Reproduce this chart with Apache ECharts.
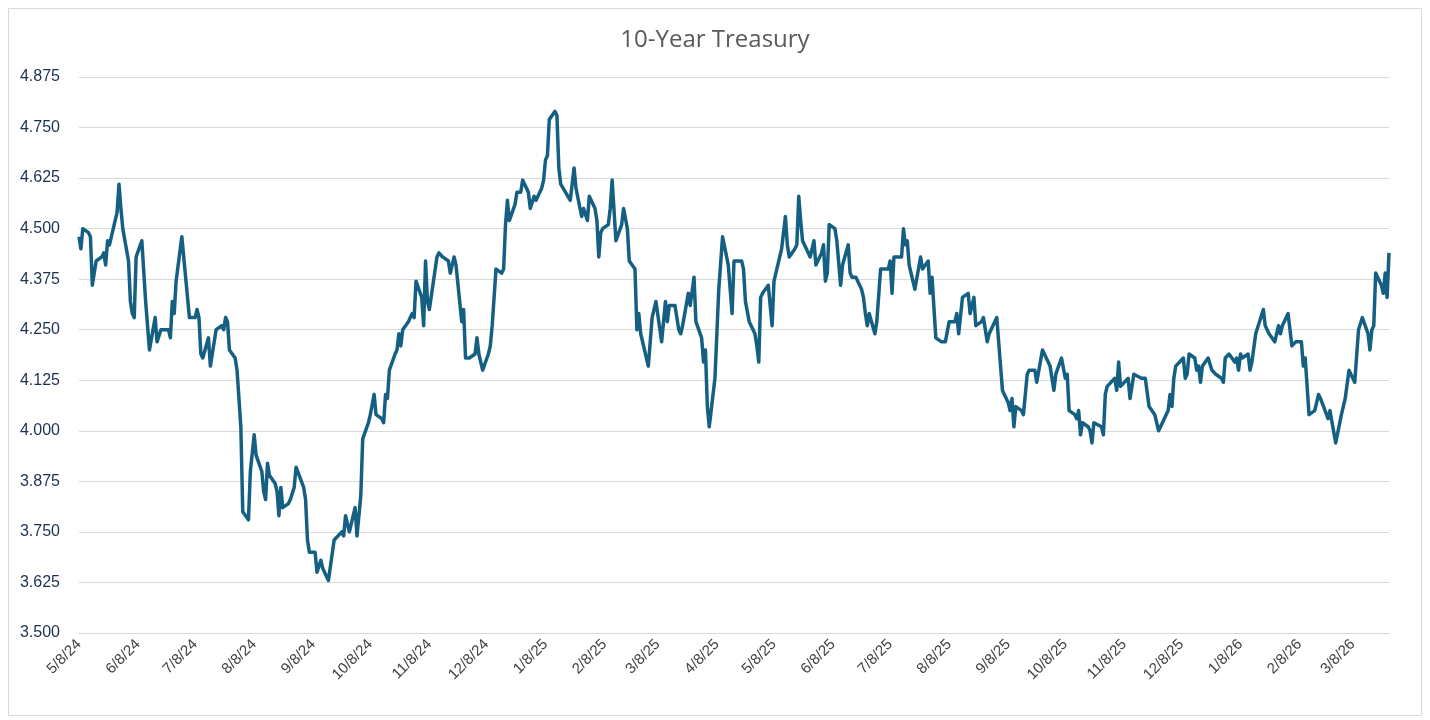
<!doctype html>
<html lang="en">
  <head>
    <meta charset="utf-8">
    <title>10-Year Treasury</title>
    <script src="https://cdn.jsdelivr.net/npm/echarts@6.0.0/dist/echarts.min.js"></script>
    <style>
      html, body {
        width: 100%;
        height: 100%;
        margin: 0;
        background: #fff;
      }

      #chart {
        width: 1430px;
        height: 720px;
      }
    </style>
  </head>
  <body>
    <div id="chart"></div>
    <script>
      // axis runs over every calendar day, labels on the 8th of each month
      const axisStart = '2024-05-08';
      const axisEnd = '2026-03-27';

      const dates = [
        '5/8/24', '5/9/24', '5/10/24', '5/13/24', '5/14/24', '5/15/24', '5/17/24', '5/20/24', '5/21/24', '5/22/24', '5/23/24', '5/24/24', '5/28/24', '5/29/24', '5/30/24', '5/31/24',
        '6/3/24', '6/4/24', '6/5/24', '6/6/24', '6/7/24', '6/10/24', '6/12/24', '6/14/24', '6/17/24', '6/18/24', '6/20/24', '6/24/24', '6/25/24', '6/26/24', '6/27/24', '6/28/24',
        '7/1/24', '7/5/24', '7/8/24', '7/9/24', '7/10/24', '7/11/24', '7/12/24', '7/15/24', '7/16/24', '7/19/24', '7/22/24', '7/23/24', '7/24/24', '7/25/24', '7/26/24', '7/29/24', '7/30/24', '7/31/24',
        '8/1/24', '8/2/24', '8/5/24', '8/6/24', '8/8/24', '8/9/24', '8/12/24', '8/13/24', '8/14/24', '8/15/24', '8/16/24', '8/19/24', '8/20/24', '8/21/24', '8/22/24', '8/23/24', '8/26/24', '8/27/24', '8/29/24', '8/30/24',
        '9/3/24', '9/4/24', '9/5/24', '9/6/24', '9/9/24', '9/10/24', '9/11/24', '9/12/24', '9/13/24', '9/16/24', '9/19/24', '9/20/24', '9/23/24', '9/24/24', '9/25/24', '9/26/24', '9/27/24', '9/30/24',
        '10/1/24', '10/3/24', '10/4/24', '10/7/24', '10/8/24', '10/10/24', '10/11/24', '10/14/24', '10/15/24', '10/16/24', '10/17/24', '10/18/24', '10/21/24', '10/22/24', '10/23/24', '10/24/24', '10/25/24', '10/28/24', '10/29/24', '10/30/24', '10/31/24',
        '11/1/24', '11/4/24', '11/5/24', '11/6/24', '11/7/24', '11/8/24', '11/12/24', '11/13/24', '11/15/24', '11/18/24', '11/19/24', '11/21/24', '11/22/24', '11/25/24', '11/26/24', '11/27/24', '11/29/24',
        '12/2/24', '12/3/24', '12/4/24', '12/6/24', '12/9/24', '12/10/24', '12/11/24', '12/13/24', '12/16/24', '12/17/24', '12/18/24', '12/19/24', '12/20/24', '12/23/24', '12/24/24', '12/26/24', '12/27/24', '12/30/24', '12/31/24',
        '1/2/25', '1/3/25', '1/6/25', '1/7/25', '1/8/25', '1/9/25', '1/10/25', '1/13/25', '1/14/25', '1/15/25', '1/16/25', '1/17/25', '1/21/25', '1/23/25', '1/24/25', '1/27/25', '1/28/25', '1/30/25', '1/31/25',
        '2/3/25', '2/4/25', '2/5/25', '2/6/25', '2/7/25', '2/10/25', '2/11/25', '2/12/25', '2/14/25', '2/17/25', '2/18/25', '2/19/25', '2/20/25', '2/21/25', '2/24/25', '2/25/25', '2/26/25', '2/27/25',
        '3/3/25', '3/5/25', '3/7/25', '3/10/25', '3/12/25', '3/13/25', '3/14/25', '3/17/25', '3/19/25', '3/20/25', '3/21/25', '3/24/25', '3/25/25', '3/27/25', '3/28/25', '3/31/25',
        '4/1/25', '4/2/25', '4/3/25', '4/4/25', '4/7/25', '4/9/25', '4/11/25', '4/14/25', '4/15/25', '4/16/25', '4/17/25', '4/21/25', '4/22/25', '4/23/25', '4/25/25', '4/28/25', '4/29/25', '4/30/25',
        '5/1/25', '5/2/25', '5/5/25', '5/7/25', '5/8/25', '5/9/25', '5/12/25', '5/14/25', '5/15/25', '5/16/25', '5/19/25', '5/20/25', '5/21/25', '5/22/25', '5/23/25', '5/27/25', '5/28/25', '5/29/25', '5/30/25',
        '6/2/25', '6/3/25', '6/4/25', '6/5/25', '6/6/25', '6/9/25', '6/10/25', '6/12/25', '6/13/25', '6/16/25', '6/17/25', '6/18/25', '6/20/25', '6/23/25', '6/24/25', '6/25/25', '6/26/25', '6/27/25', '6/30/25',
        '7/1/25', '7/3/25', '7/7/25', '7/8/25', '7/9/25', '7/10/25', '7/11/25', '7/14/25', '7/15/25', '7/16/25', '7/17/25', '7/18/25', '7/21/25', '7/24/25', '7/25/25', '7/28/25', '7/29/25', '7/30/25',
        '8/1/25', '8/4/25', '8/6/25', '8/8/25', '8/11/25', '8/12/25', '8/13/25', '8/15/25', '8/18/25', '8/19/25', '8/21/25', '8/22/25', '8/25/25', '8/26/25', '8/28/25', '8/29/25',
        '9/2/25', '9/5/25', '9/8/25', '9/9/25', '9/10/25', '9/11/25', '9/12/25', '9/15/25', '9/16/25', '9/18/25', '9/19/25', '9/22/25', '9/23/25', '9/26/25', '9/29/25', '9/30/25',
        '10/2/25', '10/3/25', '10/6/25', '10/8/25', '10/9/25', '10/10/25', '10/13/25', '10/14/25', '10/15/25', '10/16/25', '10/17/25', '10/20/25', '10/21/25', '10/22/25', '10/23/25', '10/24/25', '10/27/25', '10/28/25', '10/29/25', '10/30/25', '10/31/25',
        '11/3/25', '11/4/25', '11/5/25', '11/6/25', '11/7/25', '11/10/25', '11/11/25', '11/13/25', '11/17/25', '11/18/25', '11/19/25', '11/21/25', '11/24/25', '11/25/25', '11/26/25', '11/28/25',
        '12/1/25', '12/2/25', '12/3/25', '12/4/25', '12/5/25', '12/9/25', '12/10/25', '12/11/25', '12/12/25', '12/15/25', '12/16/25', '12/17/25', '12/18/25', '12/19/25', '12/22/25', '12/24/25', '12/26/25', '12/29/25', '12/30/25', '12/31/25',
        '1/2/26', '1/5/26', '1/6/26', '1/7/26', '1/8/26', '1/9/26', '1/12/26', '1/13/26', '1/14/26', '1/16/26', '1/20/26', '1/21/26', '1/22/26', '1/23/26', '1/26/26', '1/28/26', '1/29/26', '1/30/26',
        '2/2/26', '2/3/26', '2/4/26', '2/6/26', '2/9/26', '2/10/26', '2/11/26', '2/13/26', '2/16/26', '2/17/26', '2/18/26', '2/19/26', '2/23/26', '2/24/26', '2/27/26',
        '3/2/26', '3/3/26', '3/4/26', '3/6/26', '3/9/26', '3/11/26', '3/13/26', '3/16/26', '3/17/26', '3/18/26', '3/19/26', '3/20/26', '3/23/26', '3/24/26', '3/25/26', '3/26/26', '3/27/26'
      ];

      const yields = [
        4.48, 4.45, 4.50, 4.49, 4.48, 4.36, 4.42, 4.43, 4.44, 4.41, 4.47, 4.46, 4.54, 4.61, 4.55, 4.50,
        4.42, 4.32, 4.29, 4.28, 4.43, 4.47, 4.32, 4.20, 4.28, 4.22, 4.25, 4.25, 4.23, 4.32, 4.29, 4.37,
        4.48, 4.28, 4.28, 4.30, 4.28, 4.19, 4.18, 4.23, 4.16, 4.25, 4.26, 4.25, 4.28, 4.27, 4.20, 4.18, 4.15, 4.08,
        4.01, 3.80, 3.78, 3.90, 3.99, 3.94, 3.90, 3.85, 3.83, 3.92, 3.89, 3.87, 3.85, 3.79, 3.86, 3.81, 3.82, 3.83, 3.86, 3.91,
        3.86, 3.83, 3.73, 3.70, 3.70, 3.65, 3.65, 3.68, 3.66, 3.63, 3.73, 3.73, 3.75, 3.74, 3.79, 3.79, 3.75, 3.81,
        3.74, 3.84, 3.98, 4.02, 4.04, 4.09, 4.04, 4.03, 4.02, 4.09, 4.08, 4.15, 4.19, 4.20, 4.24, 4.21, 4.25, 4.27, 4.28, 4.29, 4.28,
        4.37, 4.33, 4.26, 4.42, 4.32, 4.30, 4.43, 4.44, 4.43, 4.42, 4.39, 4.43, 4.41, 4.27, 4.30, 4.18, 4.18,
        4.19, 4.23, 4.19, 4.15, 4.19, 4.21, 4.26, 4.40, 4.39, 4.40, 4.51, 4.57, 4.52, 4.56, 4.59, 4.59, 4.62, 4.59, 4.55,
        4.58, 4.57, 4.60, 4.62, 4.67, 4.68, 4.77, 4.79, 4.78, 4.65, 4.61, 4.61, 4.57, 4.65, 4.60, 4.53, 4.55, 4.52, 4.58,
        4.55, 4.52, 4.43, 4.49, 4.50, 4.51, 4.55, 4.62, 4.47, 4.51, 4.55, 4.55, 4.50, 4.42, 4.40, 4.25, 4.29, 4.24,
        4.16, 4.28, 4.32, 4.22, 4.32, 4.27, 4.31, 4.31, 4.25, 4.24, 4.26, 4.34, 4.31, 4.38, 4.27, 4.23,
        4.17, 4.20, 4.06, 4.01, 4.13, 4.35, 4.48, 4.41, 4.35, 4.29, 4.42, 4.42, 4.40, 4.32, 4.27, 4.24, 4.21, 4.17,
        4.33, 4.34, 4.36, 4.26, 4.37, 4.39, 4.45, 4.53, 4.46, 4.43, 4.45, 4.46, 4.58, 4.52, 4.47, 4.43, 4.43, 4.47, 4.41,
        4.44, 4.46, 4.37, 4.39, 4.51, 4.50, 4.47, 4.36, 4.41, 4.46, 4.39, 4.38, 4.38, 4.35, 4.33, 4.29, 4.26, 4.29, 4.24,
        4.27, 4.40, 4.40, 4.42, 4.34, 4.43, 4.43, 4.43, 4.50, 4.46, 4.47, 4.41, 4.35, 4.43, 4.40, 4.42, 4.34, 4.38,
        4.23, 4.22, 4.22, 4.27, 4.27, 4.29, 4.24, 4.33, 4.34, 4.29, 4.33, 4.26, 4.27, 4.28, 4.22, 4.24,
        4.28, 4.10, 4.07, 4.05, 4.08, 4.01, 4.06, 4.05, 4.04, 4.14, 4.15, 4.15, 4.12, 4.20, 4.17, 4.16,
        4.10, 4.14, 4.18, 4.13, 4.14, 4.05, 4.04, 4.03, 4.05, 3.99, 4.02, 4.01, 4.00, 3.97, 4.02, 4.02, 4.01, 3.99, 4.09, 4.11, 4.11,
        4.13, 4.10, 4.17, 4.11, 4.11, 4.13, 4.08, 4.14, 4.13, 4.13, 4.13, 4.06, 4.04, 4.02, 4.00, 4.02,
        4.05, 4.09, 4.06, 4.13, 4.16, 4.18, 4.13, 4.14, 4.19, 4.18, 4.15, 4.16, 4.12, 4.16, 4.18, 4.15, 4.14, 4.13, 4.12, 4.18,
        4.19, 4.17, 4.18, 4.15, 4.19, 4.18, 4.19, 4.15, 4.17, 4.24, 4.30, 4.26, 4.26, 4.24, 4.22, 4.26, 4.24, 4.26,
        4.29, 4.29, 4.21, 4.22, 4.22, 4.16, 4.18, 4.04, 4.05, 4.05, 4.09, 4.08, 4.03, 4.05, 3.97,
        4.04, 4.06, 4.08, 4.15, 4.12, 4.25, 4.28, 4.24, 4.20, 4.25, 4.26, 4.39, 4.36, 4.34, 4.39, 4.33, 4.44
      ];

      const yMin = 3.5;
      const yMax = 4.875;
      const yStep = 0.125;

      function shortDate(t) {
        const d = new Date(t);
        return (d.getUTCMonth() + 1) + '/' + d.getUTCDate() + '/' + String(d.getUTCFullYear()).slice(2);
      }

      // every calendar day between the axis ends
      const categories = [];
      for (let t = Date.parse(axisStart); t <= Date.parse(axisEnd); t += 86400000) {
        categories.push(shortDate(t));
      }
      const dayIndex = new Map(categories.map((c, i) => [c, i]));
      const lineData = dates.map((d, i) => [dayIndex.get(d), yields[i]]);

      const isLabelDay = (index, value) => value.split('/')[1] === '8';

      const chart = echarts.init(document.getElementById('chart'), null, {renderer: 'canvas'});

      chart.setOption({
        animation: false,
        backgroundColor: '#ffffff',
        textStyle: {
          fontFamily: 'Liberation Sans, Arial, sans-serif'
        },
        title: {
          text: '10-Year Treasury',
          left: 'center',
          top: 23,
          textStyle: {
            color: '#595959',
            fontSize: 24,
            fontWeight: 'normal',
            fontFamily: 'Open Sans, sans-serif'
          }
        },
        graphic: [
          {
            type: 'rect',
            shape: {x: 8.5, y: 8.5, width: 1413, height: 707},
            style: {fill: 'none', stroke: '#d9d9d9', lineWidth: 1},
            silent: true
          }
        ],
        grid: {
          left: 79,
          right: 41,
          top: 77,
          bottom: 87,
          containLabel: false
        },
        xAxis: {
          type: 'category',
          data: categories,
          boundaryGap: false,
          axisLine: {
            lineStyle: {color: '#d9d9d9', width: 1}
          },
          axisTick: {show: false},
          splitLine: {show: false},
          axisLabel: {
            interval: isLabelDay,
            rotate: 45,
            margin: 9,
            color: '#404040',
            fontSize: 15
          }
        },
        yAxis: {
          type: 'value',
          min: yMin,
          max: yMax,
          interval: yStep,
          axisLine: {show: false},
          axisTick: {show: false},
          splitLine: {
            lineStyle: {color: '#d9d9d9', width: 1}
          },
          axisLabel: {
            margin: 19,
            color: '#1c3150',
            fontSize: 16,
            formatter: (v) => v.toFixed(3)
          }
        },
        series: [
          {
            name: '10-Year Treasury',
            type: 'line',
            data: lineData,
            symbol: 'none',
            lineStyle: {
              color: '#156082',
              width: 3.5,
              join: 'round'
            }
          }
        ]
      });
    </script>
  </body>
</html>
